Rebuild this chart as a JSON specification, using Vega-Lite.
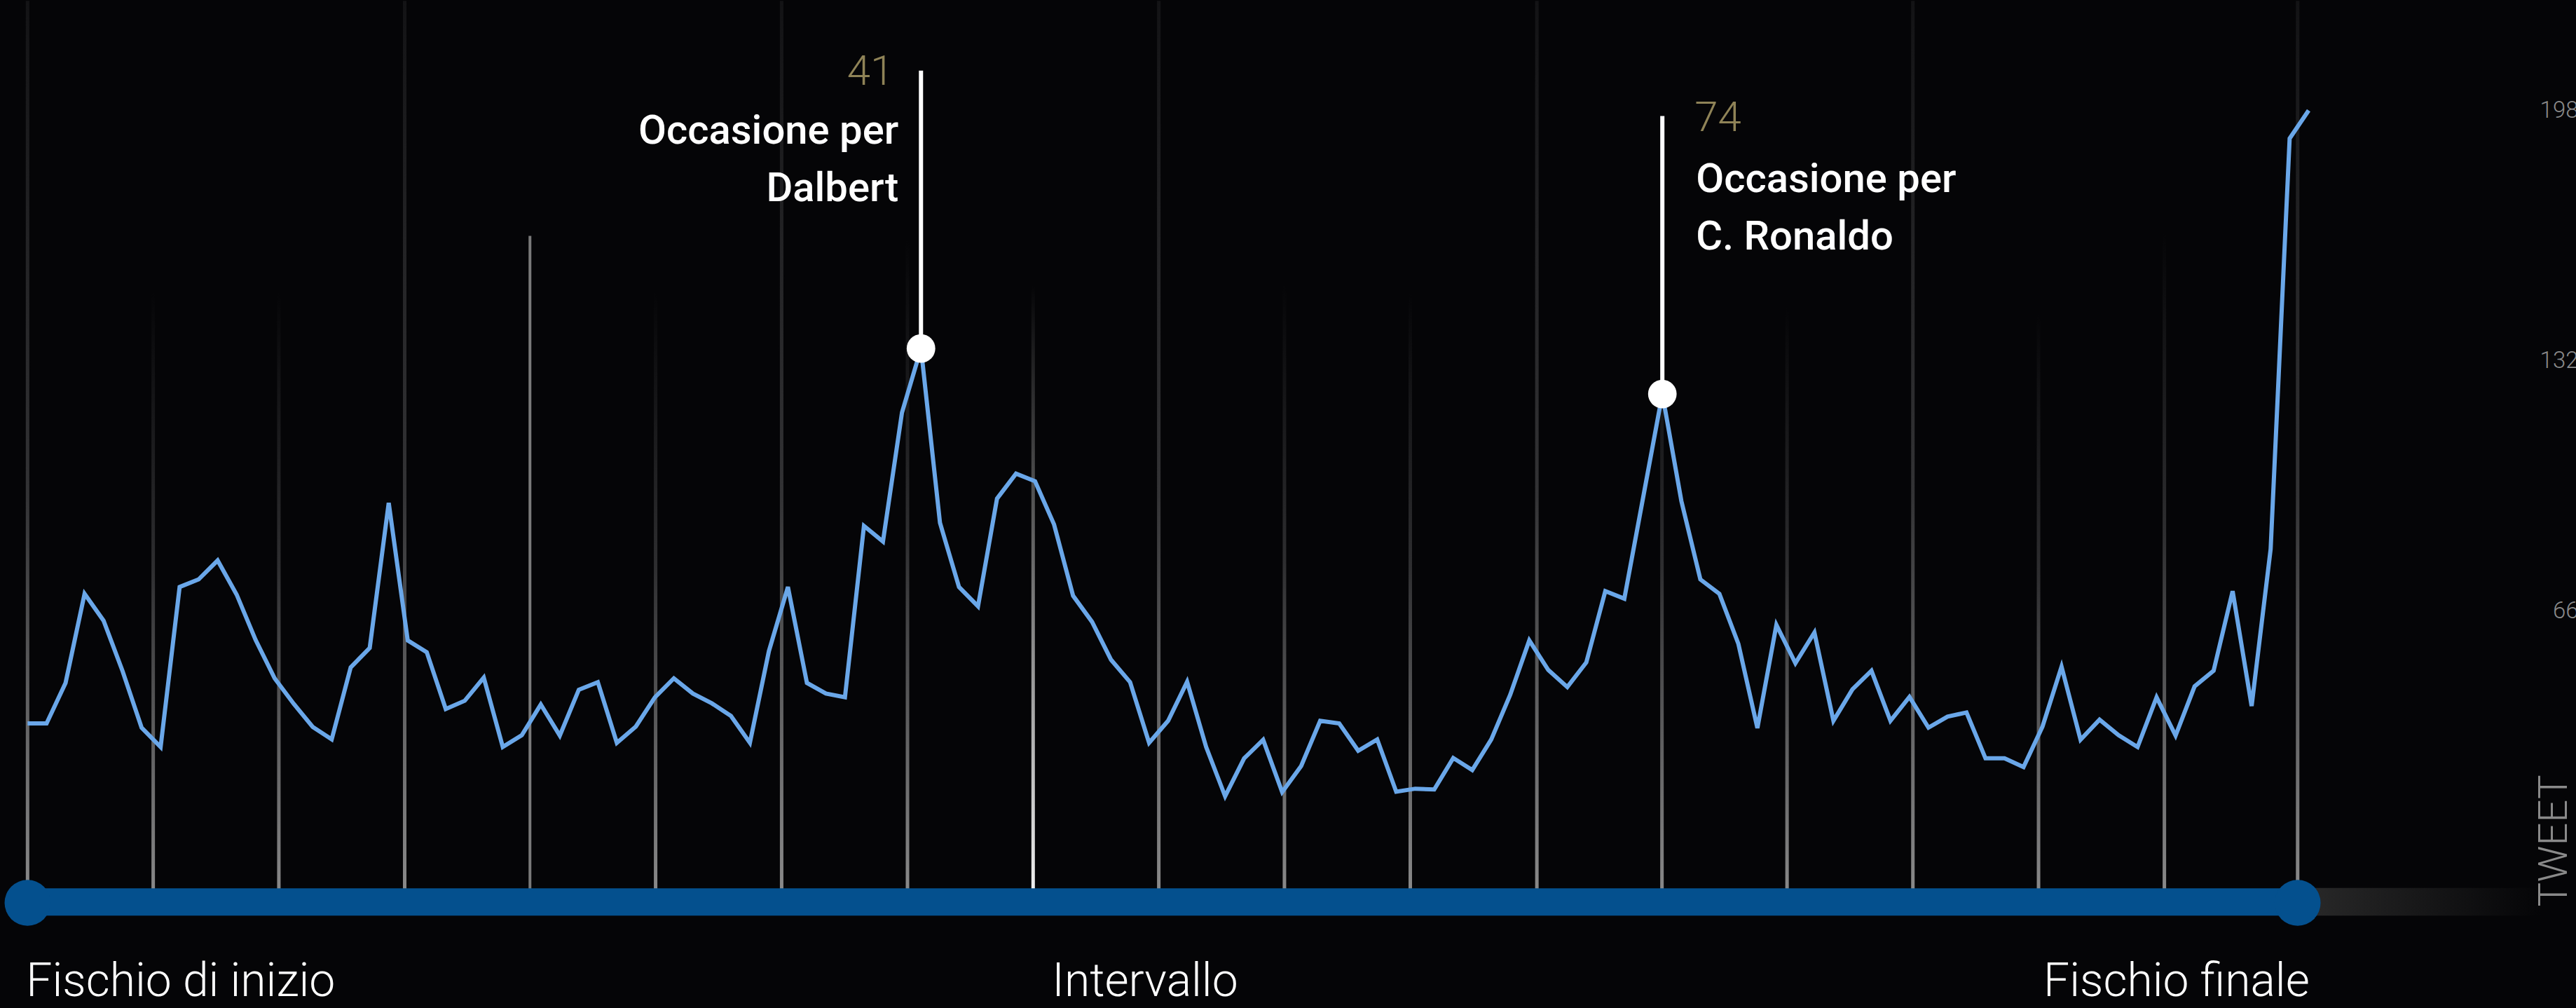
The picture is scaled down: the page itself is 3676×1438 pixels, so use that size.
{
  "$schema": "https://vega.github.io/schema/vega-lite/v6.json",
  "width": 3679,
  "height": 1438,
  "autosize": {"type": "none"},
  "padding": 0,
  "background": "#050507",
  "config": {"view": {"stroke": null}, "font": "Roboto"},
  "datasets": {
    "tweet": [
      {"t": 0, "v": 36.4}, {"t": 1, "v": 36.4}, {"t": 2, "v": 47.1}, {"t": 3, "v": 70.6}, {"t": 4, "v": 63.5},
      {"t": 5, "v": 50.2}, {"t": 6, "v": 35.3}, {"t": 7, "v": 30.2}, {"t": 8, "v": 72.4}, {"t": 9, "v": 74.4},
      {"t": 10, "v": 79.4}, {"t": 11, "v": 70.4}, {"t": 12, "v": 58.4}, {"t": 13, "v": 48.3}, {"t": 14, "v": 41.6},
      {"t": 15, "v": 35.5}, {"t": 16, "v": 32.2}, {"t": 17, "v": 51.2}, {"t": 18, "v": 56.3}, {"t": 19, "v": 94.6},
      {"t": 20, "v": 58.3}, {"t": 21, "v": 55.2}, {"t": 22, "v": 40.2}, {"t": 23, "v": 42.4}, {"t": 24, "v": 48.5},
      {"t": 25, "v": 30.2}, {"t": 26, "v": 33.3}, {"t": 27, "v": 41.4}, {"t": 28, "v": 33.2}, {"t": 29, "v": 45.3},
      {"t": 30, "v": 47.3}, {"t": 31, "v": 31.3}, {"t": 32, "v": 35.6}, {"t": 33, "v": 43.3}, {"t": 34, "v": 48.3},
      {"t": 35, "v": 44.3}, {"t": 36, "v": 41.7}, {"t": 37, "v": 38.4}, {"t": 38, "v": 31.3}, {"t": 39, "v": 55.5},
      {"t": 40, "v": 72.4}, {"t": 41, "v": 47.1}, {"t": 42, "v": 44.3}, {"t": 43, "v": 43.3}, {"t": 44, "v": 88.5},
      {"t": 45, "v": 84.4}, {"t": 46, "v": 118.4}, {"t": 47, "v": 135.3}, {"t": 48, "v": 89.3}, {"t": 49, "v": 72.4},
      {"t": 50, "v": 67.3}, {"t": 51, "v": 95.7}, {"t": 52, "v": 102.3}, {"t": 53, "v": 100.3}, {"t": 54, "v": 88.9},
      {"t": 55, "v": 70.1}, {"t": 56, "v": 63.2}, {"t": 57, "v": 53.2}, {"t": 58, "v": 47.3}, {"t": 59, "v": 31.3},
      {"t": 60, "v": 37.1}, {"t": 61, "v": 47.4}, {"t": 62, "v": 30.2}, {"t": 63, "v": 17.2}, {"t": 64, "v": 27.2},
      {"t": 65, "v": 32.1}, {"t": 66, "v": 18.3}, {"t": 67, "v": 25.2}, {"t": 68, "v": 37.1}, {"t": 69, "v": 36.4},
      {"t": 70, "v": 29.2}, {"t": 71, "v": 32.2}, {"t": 72, "v": 18.4}, {"t": 73, "v": 19.2}, {"t": 74, "v": 19.0},
      {"t": 75, "v": 27.3}, {"t": 76, "v": 24.1}, {"t": 77, "v": 32.2}, {"t": 78, "v": 44.0}, {"t": 79, "v": 58.3},
      {"t": 80, "v": 50.5}, {"t": 81, "v": 46.0}, {"t": 82, "v": 52.5}, {"t": 83, "v": 71.3}, {"t": 84, "v": 69.3},
      {"t": 85, "v": 96.3}, {"t": 86, "v": 123.3}, {"t": 87, "v": 95.1}, {"t": 88, "v": 74.4}, {"t": 89, "v": 70.6},
      {"t": 90, "v": 57.4}, {"t": 91, "v": 35.2}, {"t": 92, "v": 62.4}, {"t": 93, "v": 52.3}, {"t": 94, "v": 60.4},
      {"t": 95, "v": 37.1}, {"t": 96, "v": 45.4}, {"t": 97, "v": 50.3}, {"t": 98, "v": 37.1}, {"t": 99, "v": 43.4},
      {"t": 100, "v": 35.3}, {"t": 101, "v": 38.2}, {"t": 102, "v": 39.3}, {"t": 103, "v": 27.2}, {"t": 104, "v": 27.2},
      {"t": 105, "v": 24.9}, {"t": 106, "v": 35.6}, {"t": 107, "v": 51.4}, {"t": 108, "v": 32.1}, {"t": 109, "v": 37.4},
      {"t": 110, "v": 33.3}, {"t": 111, "v": 30.2}, {"t": 112, "v": 43.3}, {"t": 113, "v": 33.2}, {"t": 114, "v": 46.2},
      {"t": 115, "v": 50.3}, {"t": 116, "v": 71.3}, {"t": 117, "v": 41.0}, {"t": 118, "v": 82.4}, {"t": 119, "v": 190.7},
      {"t": 120, "v": 198.1}
    ],
    "griglia": [
      {"t": 0, "v": 227, "tipo": "intera"},
      {"t": 6.61, "v": 150, "tipo": "sfumata"},
      {"t": 13.22, "v": 150, "tipo": "sfumata"},
      {"t": 19.84, "v": 227, "tipo": "intera"},
      {"t": 26.43, "v": 165, "tipo": "evento"},
      {"t": 33.04, "v": 150, "tipo": "sfumata"},
      {"t": 39.67, "v": 227, "tipo": "intera"},
      {"t": 46.29, "v": 164, "tipo": "sfumata"},
      {"t": 52.9, "v": 152, "tipo": "intervallo"},
      {"t": 59.51, "v": 227, "tipo": "intera"},
      {"t": 66.12, "v": 152, "tipo": "sfumata"},
      {"t": 72.74, "v": 150, "tipo": "sfumata"},
      {"t": 79.4, "v": 227, "tipo": "intera"},
      {"t": 85.98, "v": 150, "tipo": "sfumata"},
      {"t": 92.56, "v": 146, "tipo": "sfumata"},
      {"t": 99.18, "v": 227, "tipo": "intera"},
      {"t": 105.79, "v": 144, "tipo": "sfumata"},
      {"t": 112.41, "v": 166, "tipo": "sfumata"},
      {"t": 119.42, "v": 227, "tipo": "intera"}
    ],
    "fasi": [
      {"t": 0, "fase": "Fischio di inizio"},
      {"t": 52.9, "fase": "Intervallo"},
      {"t": 119.42, "fase": "Fischio finale"}
    ],
    "annotazioni": [
      {"t": 47, "v": 135.3, "cima": 208.6, "minuto": "41", "testo": "Occasione per|Dalbert", "lato": "sinistra"},
      {"t": 86, "v": 123.3, "cima": 196.6, "minuto": "74", "testo": "Occasione per|C. Ronaldo", "lato": "destra"}
    ]
  },
  "resolve": {"axis": {"y": "independent"}},
  "encoding": {
    "x": {
      "field": "t",
      "type": "quantitative",
      "scale": {"domain": [-1.265, 133.99], "nice": false, "zero": false},
      "axis": null
    }
  },
  "layer": [
    {
      "data": {"name": "griglia"},
      "transform": [{"filter": "datum.tipo === 'intera'"}],
      "mark": {
        "type": "bar",
        "width": 5,
        "fill": {
          "gradient": "linear", "x1": 0, "y1": 0, "x2": 0, "y2": 1,
          "stops": [
            {"offset": 0, "color": "#131315"},
            {"offset": 0.55, "color": "#333335"},
            {"offset": 1, "color": "#8c8c8c"}
          ]
        }
      },
      "encoding": {
        "y": {"field": "v", "type": "quantitative", "scale": {"domain": [-38.64, 227.21], "nice": false, "zero": false}, "axis": null},
        "y2": {"datum": -10.7}
      }
    },
    {
      "data": {"name": "griglia"},
      "transform": [{"filter": "datum.tipo === 'sfumata'"}],
      "mark": {
        "type": "bar",
        "width": 5,
        "fill": {
          "gradient": "linear", "x1": 0, "y1": 0, "x2": 0, "y2": 1,
          "stops": [
            {"offset": 0, "color": "#050507"},
            {"offset": 0.45, "color": "#2e2e30"},
            {"offset": 1, "color": "#8c8c8c"}
          ]
        }
      },
      "encoding": {"y": {"field": "v", "type": "quantitative", "axis": null}, "y2": {"datum": -10.7}}
    },
    {
      "data": {"name": "griglia"},
      "transform": [{"filter": "datum.tipo === 'intervallo'"}],
      "mark": {
        "type": "bar",
        "width": 5,
        "fill": {
          "gradient": "linear", "x1": 0, "y1": 0, "x2": 0, "y2": 1,
          "stops": [
            {"offset": 0, "color": "#050507"},
            {"offset": 0.45, "color": "#6a6a6a"},
            {"offset": 1, "color": "#f4f4f4"}
          ]
        }
      },
      "encoding": {"y": {"field": "v", "type": "quantitative", "axis": null}, "y2": {"datum": -10.7}}
    },
    {
      "data": {"name": "griglia"},
      "transform": [{"filter": "datum.tipo === 'evento'"}],
      "mark": {"type": "bar", "width": 4, "fill": "#7a7a7a"},
      "encoding": {"y": {"field": "v", "type": "quantitative", "axis": null}, "y2": {"datum": -10.7}}
    },
    {
      "data": {"name": "fasi"},
      "transform": [{"filter": "datum.fase === 'Fischio finale'"}],
      "mark": {
        "type": "rect",
        "fill": {
          "gradient": "linear", "x1": 0, "y1": 0, "x2": 1, "y2": 0,
          "stops": [
            {"offset": 0, "color": "#2a2a2a"},
            {"offset": 1, "color": "#050507"}
          ]
        }
      },
      "encoding": {
        "x2": {"datum": 132.2},
        "y": {"datum": -7.0, "type": "quantitative", "axis": null},
        "y2": {"datum": -14.3}
      }
    },
    {
      "data": {"name": "fasi"},
      "mark": {"type": "line", "strokeWidth": 39, "color": "#04508e", "strokeCap": "butt"},
      "encoding": {"y": {"datum": -10.7, "type": "quantitative", "axis": null}}
    },
    {
      "data": {"name": "fasi"},
      "transform": [{"filter": "datum.fase !== 'Intervallo'"}],
      "mark": {"type": "circle", "size": 4300, "color": "#04508e", "opacity": 1},
      "encoding": {"y": {"datum": -10.9, "type": "quantitative", "axis": null}}
    },
    {
      "data": {"name": "tweet"},
      "mark": {"type": "line", "color": "#6aa7e9", "strokeWidth": 6},
      "encoding": {
        "y": {
          "field": "v",
          "type": "quantitative",
          "scale": {"domain": [-38.64, 227.21], "nice": false, "zero": false},
          "axis": {
            "orient": "right",
            "values": [66, 132, 198],
            "grid": false,
            "domain": false,
            "ticks": false,
            "labelAlign": "right",
            "labelBaseline": "middle",
            "labelPadding": 0,
            "labelFont": "Roboto",
            "labelFontSize": 33,
            "labelFontWeight": 300,
            "labelColor": "#8a8a8a",
            "title": "TWEET",
            "titleFont": "Roboto",
            "titleFontSize": 58,
            "titleFontWeight": 300,
            "titleColor": "#8a8a8a",
            "titleAngle": 270,
            "titleAlign": "left",
            "titleBaseline": "alphabetic",
            "titleX": -17,
            "titleY": 1293,
            "zindex": 5
          }
        }
      }
    },
    {
      "data": {"name": "annotazioni"},
      "mark": {"type": "rule", "color": "#ffffff", "strokeWidth": 6},
      "encoding": {"y": {"field": "v", "type": "quantitative", "axis": null}, "y2": {"field": "cima"}}
    },
    {
      "data": {"name": "annotazioni"},
      "mark": {"type": "circle", "size": 1662, "color": "#ffffff", "opacity": 1},
      "encoding": {"y": {"field": "v", "type": "quantitative", "axis": null}}
    },
    {
      "data": {"name": "annotazioni"},
      "transform": [{"filter": "datum.lato === 'sinistra'"}],
      "mark": {"type": "text", "align": "right", "baseline": "alphabetic", "dx": -39, "dy": 20, "font": "Roboto", "fontSize": 60, "fontWeight": 300, "color": "#8f8357"},
      "encoding": {"y": {"field": "cima", "type": "quantitative", "axis": null}, "text": {"field": "minuto"}}
    },
    {
      "data": {"name": "annotazioni"},
      "transform": [{"filter": "datum.lato === 'destra'"}],
      "mark": {"type": "text", "align": "left", "baseline": "alphabetic", "dx": 46, "dy": 21, "font": "Roboto", "fontSize": 60, "fontWeight": 300, "color": "#8f8357"},
      "encoding": {"y": {"field": "cima", "type": "quantitative", "axis": null}, "text": {"field": "minuto"}}
    },
    {
      "data": {"name": "annotazioni"},
      "transform": [{"filter": "datum.lato === 'sinistra'"}],
      "mark": {"type": "text", "align": "right", "baseline": "alphabetic", "dx": -32, "dy": 104, "lineBreak": "|", "lineHeight": 82, "font": "Roboto", "fontSize": 58, "fontWeight": 500, "color": "#ffffff"},
      "encoding": {"y": {"field": "cima", "type": "quantitative", "axis": null}, "text": {"field": "testo"}}
    },
    {
      "data": {"name": "annotazioni"},
      "transform": [{"filter": "datum.lato === 'destra'"}],
      "mark": {"type": "text", "align": "left", "baseline": "alphabetic", "dx": 48, "dy": 108, "lineBreak": "|", "lineHeight": 82, "font": "Roboto", "fontSize": 58, "fontWeight": 500, "color": "#ffffff"},
      "encoding": {"y": {"field": "cima", "type": "quantitative", "axis": null}, "text": {"field": "testo"}}
    },
    {
      "data": {"name": "fasi"},
      "transform": [{"filter": "datum.fase === 'Fischio di inizio'"}],
      "mark": {"type": "text", "align": "left", "baseline": "alphabetic", "dx": -2, "font": "Roboto", "fontSize": 66, "fontWeight": 300, "color": "#ffffff"},
      "encoding": {"y": {"datum": -35.44, "type": "quantitative", "axis": null}, "text": {"field": "fase"}}
    },
    {
      "data": {"name": "fasi"},
      "transform": [{"filter": "datum.fase === 'Intervallo'"}],
      "mark": {"type": "text", "align": "left", "baseline": "alphabetic", "dx": 27, "font": "Roboto", "fontSize": 66, "fontWeight": 300, "color": "#ffffff"},
      "encoding": {"y": {"datum": -35.44, "type": "quantitative", "axis": null}, "text": {"field": "fase"}}
    },
    {
      "data": {"name": "fasi"},
      "transform": [{"filter": "datum.fase === 'Fischio finale'"}],
      "mark": {"type": "text", "align": "right", "baseline": "alphabetic", "dx": 17, "font": "Roboto", "fontSize": 66, "fontWeight": 300, "color": "#ffffff"},
      "encoding": {"y": {"datum": -35.44, "type": "quantitative", "axis": null}, "text": {"field": "fase"}}
    }
  ]
}
